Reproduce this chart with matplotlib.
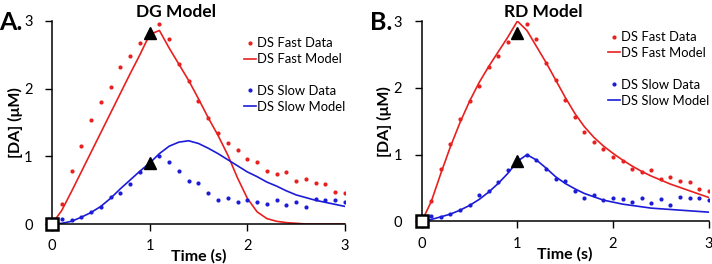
import matplotlib
matplotlib.use('Agg')
import matplotlib.pyplot as plt
from matplotlib.lines import Line2D
import numpy as np

plt.rcParams['font.family'] = ['Lato', 'DejaVu Sans']

# ---------------- data ----------------
t_data = [0.1, 0.2, 0.3, 0.4, 0.5, 0.6, 0.7, 0.8, 0.9, 1.0,
          1.1, 1.2, 1.3, 1.4, 1.5, 1.6, 1.7, 1.8, 1.9, 2.0,
          2.1, 2.2, 2.3, 2.4, 2.5, 2.6, 2.7, 2.8, 2.9, 3.0]
fast_data = [0.30, 0.78, 1.16, 1.54, 1.80, 2.03, 2.32, 2.48, 2.68, 2.82,
             2.95, 2.73, 2.37, 2.12, 1.82, 1.56, 1.34, 1.19, 1.09, 0.96,
             0.91, 0.78, 0.74, 0.77, 0.63, 0.66, 0.61, 0.59, 0.48, 0.46]
slow_data = [0.08, 0.06, 0.11, 0.17, 0.25, 0.40, 0.46, 0.59, 0.77, 0.90,
             1.00, 0.92, 0.79, 0.64, 0.61, 0.46, 0.35, 0.39, 0.32, 0.35,
             0.33, 0.29, 0.35, 0.28, 0.33, 0.25, 0.37, 0.35, 0.35, 0.32]

t_model = [0.0, 0.1, 0.2, 0.3, 0.4, 0.5, 0.6, 0.7, 0.8, 0.9, 1.0,
           1.1, 1.2, 1.3, 1.4, 1.5, 1.6, 1.7, 1.8, 1.9, 2.0,
           2.1, 2.2, 2.3, 2.4, 2.5, 2.6, 2.7, 2.8, 2.9, 3.0]
dg_fast = [0.0, 0.20, 0.48, 0.77, 1.06, 1.35, 1.64, 1.93, 2.22, 2.50, 2.80,
           2.86, 2.60, 2.36, 2.12, 1.85, 1.57, 1.31, 1.02, 0.68, 0.38,
           0.18, 0.08, 0.04, 0.02, 0.01, 0.0, 0.0, 0.0, 0.0, 0.0]
dg_slow = [0.0, 0.01, 0.04, 0.10, 0.17, 0.26, 0.38, 0.52, 0.65, 0.78, 0.90,
           1.04, 1.15, 1.21, 1.23, 1.19, 1.12, 1.04, 0.95, 0.86, 0.77,
           0.70, 0.62, 0.56, 0.49, 0.43, 0.39, 0.35, 0.32, 0.29, 0.26]
rd_fast = [0.0, 0.30, 0.72, 1.12, 1.48, 1.80, 2.08, 2.32, 2.54, 2.76, 3.00,
           2.86, 2.62, 2.38, 2.12, 1.86, 1.62, 1.42, 1.26, 1.13, 1.02,
           0.92, 0.83, 0.75, 0.68, 0.62, 0.56, 0.51, 0.46, 0.41, 0.36]
rd_slow = [0.0, 0.03, 0.07, 0.11, 0.17, 0.24, 0.33, 0.44, 0.57, 0.72, 0.90,
           1.00, 0.92, 0.80, 0.67, 0.57, 0.49, 0.42, 0.37, 0.32, 0.29,
           0.26, 0.24, 0.22, 0.20, 0.19, 0.18, 0.17, 0.16, 0.15, 0.14]

stim_t = [1.0, 1.0]
stim_y = [2.82, 0.90]

RED = '#e8201f'
BLUE = '#1c1cd8'

fig = plt.figure(figsize=(7.12, 2.64), dpi=100)
ax1 = fig.add_axes([0.073, 0.1515, 0.4115, 0.769])
ax2 = fig.add_axes([0.5923, 0.161, 0.403, 0.759])


def panel(ax, fast_model, slow_model, title, letter, leg_anchor):
    ax.plot(t_data, fast_data, 'o', color=RED, ms=3, mec='none', zorder=3)
    ax.plot(t_data, slow_data, 'o', color=BLUE, ms=3, mec='none', zorder=3)
    ax.plot(t_model, fast_model, '-', color=RED, lw=1.2, zorder=2)
    ax.plot(t_model, slow_model, '-', color=BLUE, lw=1.2, zorder=2)
    ax.plot(stim_t, stim_y, '^', color='black', ms=8, zorder=5)
    ax.plot([0], [0], 's', mfc='white', mec='black', mew=1.8, ms=9,
            clip_on=False, zorder=6)

    ax.set_xlim(0, 3)
    ax.set_ylim(0, 3)
    ax.set_xticks([0, 1, 2, 3])
    ax.set_yticks([0, 1, 2, 3])
    for s in ['top', 'right']:
        ax.spines[s].set_visible(False)
    for s in ['left', 'bottom']:
        ax.spines[s].set_linewidth(1.1)
    ax.tick_params(axis='y', direction='out', length=5, width=1, pad=9,
                   labelsize=10.5)
    ax.tick_params(axis='x', direction='out', length=5, width=1, pad=6,
                   labelsize=10.5)

    ax.set_xlabel('Time (s)', fontsize=11.5, fontweight='bold', labelpad=-3)
    ax.set_ylabel('[DA] (\u03bcM)', fontsize=11.5, fontweight='bold',
                  labelpad=1)
    ax.text(0.425, 1.045, title, transform=ax.transAxes, ha='center',
            va='center', fontsize=12.5, fontweight='bold')
    ax.text(-0.18, 0.995, letter, transform=ax.transAxes, ha='left',
            va='center', fontsize=18, fontweight='bold')

    handles = [Line2D([], [], ls='none', marker='o', color=RED, ms=3, mec='none'),
               Line2D([], [], color=RED, lw=1.2),
               Line2D([], [], ls='none'),
               Line2D([], [], ls='none', marker='o', color=BLUE, ms=3, mec='none'),
               Line2D([], [], color=BLUE, lw=1.2)]
    labels = ['DS Fast Data', 'DS Fast Model', '', 'DS Slow Data', 'DS Slow Model']
    ax.legend(handles, labels, loc='upper left', bbox_to_anchor=leg_anchor,
              frameon=False, fontsize=9.4, handlelength=0.9, handletextpad=0.1,
              borderpad=0, borderaxespad=0, labelspacing=0.3)


panel(ax1, dg_fast, dg_slow, 'DG Model', 'A.', (0.655, 0.92))
panel(ax2, rd_fast, rd_slow, 'RD Model', 'B.', (0.65, 0.95))

fig.savefig('out.png', dpi=100)
